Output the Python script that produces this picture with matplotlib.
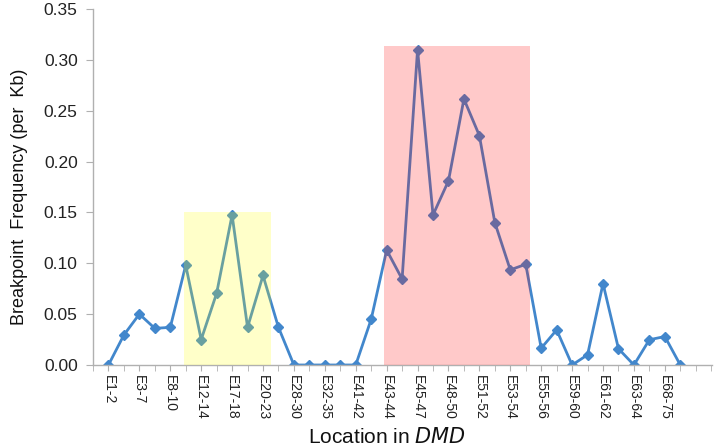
import matplotlib
matplotlib.use("Agg")
import matplotlib.pyplot as plt
import numpy as np

plt.rcParams['font.family'] = ['Liberation Sans', 'DejaVu Sans']

labels = ["E1-2", "", "E3-7", "", "E8-10", "", "E12-14", "", "E17-18", "", "E20-23", "",
          "E28-30", "", "E32-35", "", "E41-42", "", "E43-44", "", "E45-47", "", "E48-50", "",
          "E51-52", "", "E53-54", "", "E55-56", "", "E59-60", "", "E61-62", "", "E63-64", "",
          "E68-75", ""]
values = [0.0, 0.0295, 0.050, 0.036, 0.037, 0.098, 0.025, 0.0705, 0.1475, 0.037, 0.088, 0.037,
          0.0, 0.0, 0.0, 0.0, 0.0, 0.045, 0.113, 0.0845, 0.310, 0.1475, 0.181, 0.2615,
          0.2255, 0.140, 0.0935, 0.099, 0.0165, 0.0345, 0.0, 0.0100, 0.080, 0.016, 0.0, 0.0248,
          0.028, 0.0]
yellow_box = (4.87, 10.5, 0.150)
pink_box = (17.86, 27.27, 0.3135)

fig = plt.figure(figsize=(7.17, 4.48), dpi=100)
ax = fig.add_axes([0.1297, 0.1853, 0.993 - 0.1297, 0.98 - 0.1853])

x = np.arange(len(values))
ax.plot(x, values, color=(0.26, 0.53, 0.80), lw=2.0, marker='D', markersize=5, zorder=2)

ax.fill_between([yellow_box[0], yellow_box[1]], 0, yellow_box[2], color=(1.0, 1.0, 0.0),
                alpha=0.21, lw=0, zorder=3)
ax.fill_between([pink_box[0], pink_box[1]], 0, pink_box[2], color=(1.0, 0.0, 0.0),
                alpha=0.21, lw=0, zorder=3)

ax.set_xlim(-1, 39.05)
ax.set_ylim(0, 0.35)
ax.set_yticks(np.arange(0, 0.351, 0.05))
ax.set_yticklabels([f"{v:.2f}" for v in np.arange(0, 0.351, 0.05)], fontsize=12.5, color='#222222')

ax.set_xticks(x[::2])
ax.set_xticklabels([l for l in labels[::2]], rotation=-90, fontsize=10, color='#222222')
ax.set_xticks(np.arange(-1, 40), minor=True)
ax.tick_params(axis='x', which='both', length=4, color='#b0b0b0', direction='out', pad=3)
ax.tick_params(axis='y', length=5, color='#b0b0b0', direction='out', pad=6)

for s in ['top', 'right']:
    ax.spines[s].set_visible(False)
for s in ['left', 'bottom']:
    ax.spines[s].set_color('#b0b0b0')
    ax.spines[s].set_linewidth(1.0)

fig.text(0.54, 0.024, "Location in $\\it{DMD}$", ha='center', va='center', fontsize=15, color='#111111')
fig.text(0.027, 0.56, "Breakpoint  Frequency (per  Kb)", ha='center', va='center', rotation=90,
         fontsize=13, color='#111111')

fig.savefig("out.png", dpi=100)
